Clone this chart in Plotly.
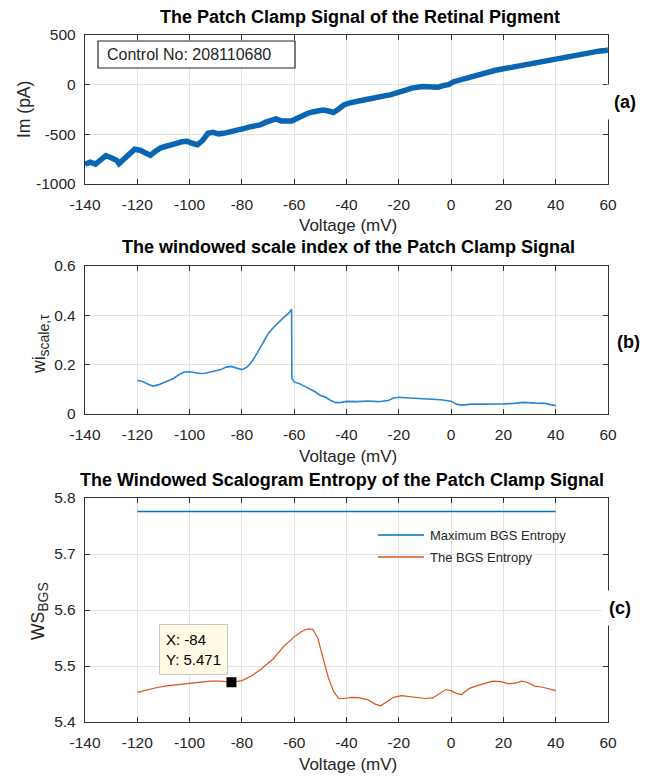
import plotly.graph_objects as go

# ---------------- data ----------------
# (a) patch clamp current vs voltage (centre of the noisy trace)
volt_a = [-140, -138, -136, -134, -132, -130, -128, -127, -125, -123, -121, -119, -117, -115,
          -113, -111, -109, -107, -105, -103, -101, -99, -97, -95, -93, -91, -89, -87, -85,
          -83, -81, -79, -77, -75, -73, -71, -69, -67, -65, -63, -61, -59, -57, -55, -53,
          -51, -49, -47, -45, -43, -41, -39, -37, -35, -33, -31, -29, -27, -25, -23, -21,
          -19, -17, -15, -13, -11, -9, -7, -5, -3, -1, 1, 3, 5, 7, 9, 11, 13, 15, 17, 19,
          21, 23, 25, 27, 29, 31, 33, 35, 37, 39, 41, 43, 45, 47, 49, 51, 53, 55, 57, 59, 60]
im_a = [-800, -780, -800, -760, -715, -735, -760, -795, -745, -700, -650, -660, -680, -710,
        -670, -635, -620, -610, -590, -575, -570, -590, -605, -560, -490, -480, -495, -490, -480,
        -470, -450, -440, -425, -420, -405, -380, -355, -345, -365, -370, -365, -340, -310, -290, -275,
        -265, -255, -265, -280, -245, -205, -185, -170, -160, -152, -142, -135, -120, -110, -100, -88,
        -70, -52, -35, -20, -18, -20, -22, -25, -10, 0, 30, 45, 60, 75, 90, 110, 120, 135, 145, 155,
        165, 180, 192, 200, 210, 220, 228, 240, 248, 255, 262, 272, 280, 290, 298, 308, 318, 328, 340, 345, 350]
control_label = "Control No: 208110680"

# (b) windowed scale index
volt_b = [-120, -118, -116, -114, -112, -110, -108, -106, -104, -102, -100, -98, -96, -94, -92,
          -90, -88, -86, -84, -82, -80, -78, -76, -74, -72, -70, -68, -66, -64, -62, -61,
          -60.9, -60, -58, -56, -54, -52, -50, -48, -46, -44, -42, -40, -36, -32, -28, -24,
          -22, -20, -16, -12, -8, -4, 0, 2, 4, 8, 12, 16, 20, 24, 28, 32, 36, 38, 40]
wi_b = [0.137, 0.132, 0.122, 0.113, 0.118, 0.127, 0.134, 0.145, 0.160, 0.170, 0.171, 0.168, 0.164, 0.165, 0.170,
        0.174, 0.180, 0.190, 0.193, 0.186, 0.180, 0.190, 0.215, 0.250, 0.290, 0.325, 0.350, 0.372, 0.392, 0.410, 0.425,
        0.145, 0.130, 0.123, 0.112, 0.100, 0.090, 0.075, 0.068, 0.055, 0.046, 0.047, 0.051, 0.050, 0.053, 0.050, 0.055,
        0.065, 0.068, 0.065, 0.063, 0.061, 0.058, 0.052, 0.040, 0.036, 0.040, 0.040, 0.039, 0.041, 0.043, 0.047, 0.044, 0.043, 0.038, 0.034]

# (c) windowed scalogram entropy
volt_c = [-120, -116, -112, -108, -104, -100, -96, -92, -88, -84, -80, -76, -72, -68, -64, -60, -57,
          -55, -53, -51, -49, -47, -45, -43, -41, -38, -35, -32, -29, -27, -25, -22, -19, -16, -13,
          -10, -7, -4, -2, 0, 2, 4, 7, 10, 13, 16, 19, 22, 25, 27, 29, 32, 35, 38, 40]
bgs_c = [5.453, 5.458, 5.462, 5.465, 5.467, 5.469, 5.472, 5.473, 5.473, 5.471, 5.474, 5.483, 5.497, 5.513, 5.535, 5.552, 5.562,
         5.566, 5.566, 5.550, 5.515, 5.480, 5.455, 5.442, 5.442, 5.444, 5.443, 5.440, 5.432, 5.429, 5.435, 5.444, 5.447, 5.445, 5.443,
         5.442, 5.443, 5.452, 5.458, 5.456, 5.451, 5.449, 5.460, 5.465, 5.469, 5.473, 5.472, 5.468, 5.470, 5.473, 5.471, 5.464, 5.462, 5.459, 5.456]
max_volt = [-120, 40]
max_bgs = [5.776, 5.776]
series_names = ["Maximum BGS Entropy", "The BGS Entropy"]
tip_x, tip_y = -84, 5.471

x_ticks = list(range(-140, 61, 20))
y_ticks_a = [-1000, -500, 0, 500]
y_ticks_b = [0, 0.2, 0.4, 0.6]
y_ticks_c = [5.4, 5.5, 5.6, 5.7, 5.8]

# ---------------- layout helpers (pixel -> paper) ----------------
W, H = 649, 778
ML, MR, MT, MB = 85, 41, 35, 56
PW, PH = W - ML - MR, H - MT - MB


def fx(px):
    return (px - ML) / PW


def fy(py):
    return (H - MB - py) / PH


def lab(v):
    return ("%g" % v)


FONT = "Liberation Sans, Arial, sans-serif"
DARK = "#262626"
BLUE = "#0072BD"
ORANGE = "#D95319"

fig = go.Figure()
fig.add_trace(go.Scatter(x=volt_a, y=im_a, mode="lines", xaxis="x", yaxis="y",
                         line=dict(color="#0a66b2", width=5.5), showlegend=False))
fig.add_trace(go.Scatter(x=volt_b, y=wi_b, mode="lines", xaxis="x2", yaxis="y2",
                         line=dict(color="#2c86cf", width=1.6), showlegend=False))
fig.add_trace(go.Scatter(x=max_volt, y=max_bgs, mode="lines", xaxis="x3", yaxis="y3",
                         line=dict(color=BLUE, width=1.5), name=series_names[0], showlegend=False))
fig.add_trace(go.Scatter(x=volt_c, y=bgs_c, mode="lines", xaxis="x3", yaxis="y3",
                         line=dict(color=ORANGE, width=1.2), name=series_names[1], showlegend=False))
fig.add_trace(go.Scatter(x=[tip_x], y=[tip_y], mode="markers", xaxis="x3", yaxis="y3",
                         marker=dict(symbol="square", size=10, color="black"), showlegend=False))

axis_common = dict(showline=True, linecolor="#333333", linewidth=1.4, mirror="ticks",
                   ticks="inside", ticklen=5, tickcolor="#333333", showgrid=True,
                   gridcolor="#e2e2e2", gridwidth=1, zeroline=False,
                   tickfont=dict(family=FONT, size=15.5, color=DARK))

dom_a = [fy(184), fy(35)]
dom_b = [fy(414), fy(266)]
dom_c = [fy(722), fy(498)]

for i, (dom, yr, yt) in enumerate([(dom_a, [-1000, 500], y_ticks_a),
                                   (dom_b, [0, 0.6], y_ticks_b),
                                   (dom_c, [5.4, 5.8], y_ticks_c)]):
    s = "" if i == 0 else str(i + 1)
    fig.layout["xaxis" + s] = dict(axis_common, range=[-140, 60], tickvals=x_ticks,
                                   ticktext=[lab(v) for v in x_ticks],
                                   anchor="y" + s, domain=[0, 1], ticklabelstandoff=6)
    fig.layout["yaxis" + s] = dict(axis_common, range=yr, tickvals=yt,
                                   ticktext=[lab(v) for v in yt],
                                   anchor="x" + s, domain=dom, ticklabelstandoff=5)

ann = []
titles = [("The Patch Clamp Signal of the Retinal Pigment", 360, 17),
          ("The windowed scale index of the Patch Clamp Signal", 348, 247),
          ("The Windowed Scalogram Entropy of the Patch Clamp Signal", 342, 480)]
for t, px, py in titles:
    ann.append(dict(text="<b>%s</b>" % t, xref="paper", yref="paper", x=fx(px), y=fy(py),
                    xanchor="center", yanchor="middle", showarrow=False,
                    font=dict(family=FONT, size=18, color="black")))
for py in (226, 457, 764):
    ann.append(dict(text="Voltage (mV)", xref="paper", yref="paper", x=fx(348), y=fy(py),
                    xanchor="center", yanchor="middle", showarrow=False,
                    font=dict(family=FONT, size=17, color=DARK)))
SUB = "<sub><span style='font-size:14px'>%s</span></sub>"
ytitles = [("Im (pA)", 24, 110), ("wi" + SUB % "scale,\u03c4", 40, 344), ("WS" + SUB % "BGS", 39, 611)]
for t, px, py in ytitles:
    ann.append(dict(text=t, xref="paper", yref="paper", x=fx(px), y=fy(py), textangle=-90,
                    xanchor="center", yanchor="middle", showarrow=False,
                    font=dict(family=FONT, size=17.5, color=DARK)))
for t, px, py in [("(a)", 625, 102), ("(b)", 628, 342), ("(c)", 620, 608)]:
    ann.append(dict(text="<b>%s</b>" % t, xref="paper", yref="paper", x=fx(px), y=fy(py),
                    xanchor="center", yanchor="middle", showarrow=False, bgcolor="white",
                    borderpad=7, font=dict(family=FONT, size=18, color="black")))
# control label box
ann.append(dict(text=control_label, xref="paper", yref="paper", x=fx(105), y=fy(54.5),
                xanchor="left", yanchor="middle", showarrow=False,
                font=dict(family=FONT, size=16, color=DARK)))
# legend texts for (c)
for name, py in zip(series_names, (535, 557)):
    ann.append(dict(text=name, xref="paper", yref="paper", x=fx(428), y=fy(py),
                    xanchor="left", yanchor="middle", showarrow=False,
                    font=dict(family=FONT, size=13, color=DARK)))
# data tip
ann.append(dict(text="X: %d<br>Y: %.3f" % (tip_x, tip_y), xref="x3", yref="y3", x=tip_x, y=tip_y,
                xanchor="right", yanchor="bottom", xshift=-3, yshift=7, showarrow=False,
                align="left", bgcolor="#fffbe6", bordercolor="#c8c8c8", borderwidth=1,
                borderpad=6, font=dict(family=FONT, size=15, color="black")))

shapes = [
    dict(type="rect", xref="paper", yref="paper", x0=fx(98), x1=fx(295), y0=fy(68), y1=fy(41),
         line=dict(color=DARK, width=1.2), fillcolor="white", layer="above"),
    dict(type="line", xref="paper", yref="paper", x0=fx(378), x1=fx(424), y0=fy(535), y1=fy(535),
         line=dict(color=BLUE, width=1.5)),
    dict(type="line", xref="paper", yref="paper", x0=fx(378), x1=fx(424), y0=fy(557), y1=fy(557),
         line=dict(color=ORANGE, width=1.5)),
]

fig.update_layout(width=W, height=H, margin=dict(l=ML, r=MR, t=MT, b=MB),
                  paper_bgcolor="white", plot_bgcolor="white",
                  annotations=ann, shapes=shapes, showlegend=False)
fig.write_html("out.html", config={"displayModeBar": False},
               post_script="document.body.style.margin='0px';")
